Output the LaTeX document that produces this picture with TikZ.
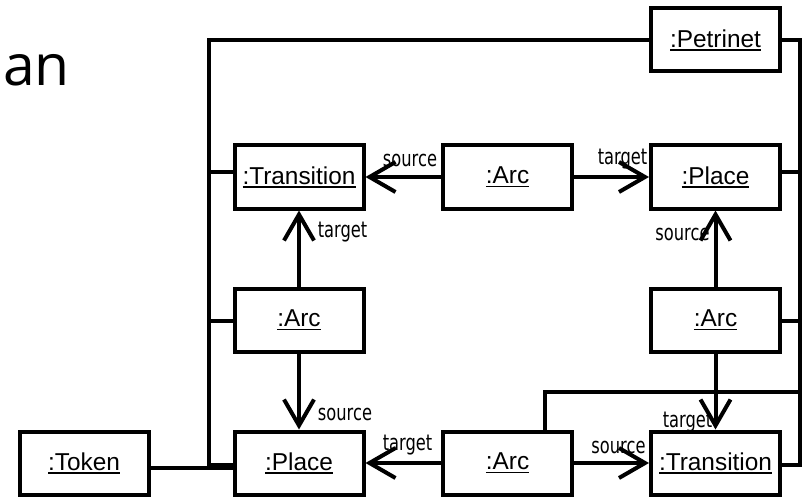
\documentclass[tikz,border=0pt]{standalone}
\usepackage{fontspec}
\setmainfont{Liberation Sans}
\newfontfamily\lblfont[FakeStretch=0.74]{DejaVu Sans}
\newfontfamily\titlefont{Open Sans}
\usetikzlibrary{arrows.meta,calc}
\newcommand\ulbox[1]{\setbox0\hbox{#1}\rlap{\rule[-3.5pt]{\wd0}{1.6pt}}\box0}
\tikzset{
  obj/.style={draw, line width=4pt, minimum width=129pt, minimum height=63pt, inner sep=0pt,
    font=\fontsize{24.4}{28}\selectfont},
  conn/.style={line width=4pt},
  arr/.style={line width=4pt, -{Straight Barb[length=26pt,width=30pt]}},
  lbl/.style={inner sep=0pt, anchor=base, font=\lblfont\fontsize{22}{25}\selectfont}
}
\begin{document}
\begin{tikzpicture}[x=1pt,y=-1pt]
\useasboundingbox (0,0) rectangle (805,497);
% title fragment
\node[inner sep=0pt, anchor=base west, font=\titlefont\fontsize{57}{64}\selectfont] (title) at (3,86) {an};
% objects
\node[obj] (petri) at (715.5,40) {\ulbox{:Petrinet}};
\node[obj] (transT) at (299,177) {\ulbox{:Transition}};
\node[obj] (arcT) at (507.5,177) {\ulbox{:Arc}};
\node[obj] (placeT) at (715.5,177) {\ulbox{:Place}};
\node[obj] (arcL) at (299,320) {\ulbox{:Arc}};
\node[obj] (arcR) at (715.5,320) {\ulbox{:Arc}};
\node[obj] (token) at (84,463) {\ulbox{:Token}};
\node[obj] (placeB) at (299,463) {\ulbox{:Place}};
\node[obj] (arcB) at (507.5,463) {\ulbox{:Arc}};
\node[obj] (transB) at (715.5,463) {\ulbox{:Transition}};
% bus coordinates
\coordinate (lt) at (209,40);
\coordinate (lb) at (209,465);
\coordinate (rt) at (799.5,40);
\coordinate (rb) at (799.5,465);
% left bus
\draw[conn] (petri.west) -- (lt) -- (lb) -- (placeB.west |- lb);
\draw[conn] ($(arcT.north)+(6.5,0)$) -- ($(arcT.north)+(6.5,0)$ |- lt);
\draw[conn] (transT.west |- 0,172) -- (lt |- 0,172);
\draw[conn] (arcL.west |- 0,321) -- (lt |- 0,321);
% right bus
\draw[conn] (petri.east) -- (rt) -- (rb) -- (transB.east |- rb);
\draw[conn] (placeT.east |- 0,172.5) -- (rt |- 0,172.5);
\draw[conn] (arcR.east |- 0,321) -- (rt |- 0,321);
\coordinate (bk) at (545,392);
\draw[conn] (arcB.north -| bk) -- (bk) -- (rt |- bk);
% token
\draw[conn] ($(token.east)+(0,5)$) -- ($(placeB.west)+(0,5)$);
% arrows
\draw[arr] (arcT.west) -- (transT.east);
\draw[arr] (arcT.east) -- (placeT.west);
\draw[arr] (arcL.north) -- (transT.south);
\draw[arr] (arcL.south) -- (placeB.north);
\draw[arr] (arcR.north) -- (placeT.south);
\draw[arr] (arcR.south) -- (transB.north);
\draw[arr] (arcB.west) -- (placeB.east);
\draw[arr] (arcB.east) -- (transB.west);
% role labels
\node[lbl] (l1) at (410,167) {source};
\node[lbl] (l2) at (622.5,165) {target};
\node[lbl] (l3) at (342.5,237) {target};
\node[lbl] (l4) at (682.5,240) {source};
\node[lbl] (l5) at (345,420) {source};
\node[lbl] (l6) at (687.5,427) {target};
\node[lbl] (l7) at (407.5,450) {target};
\node[lbl] (l8) at (618.5,453) {source};
\end{tikzpicture}
\end{document}
